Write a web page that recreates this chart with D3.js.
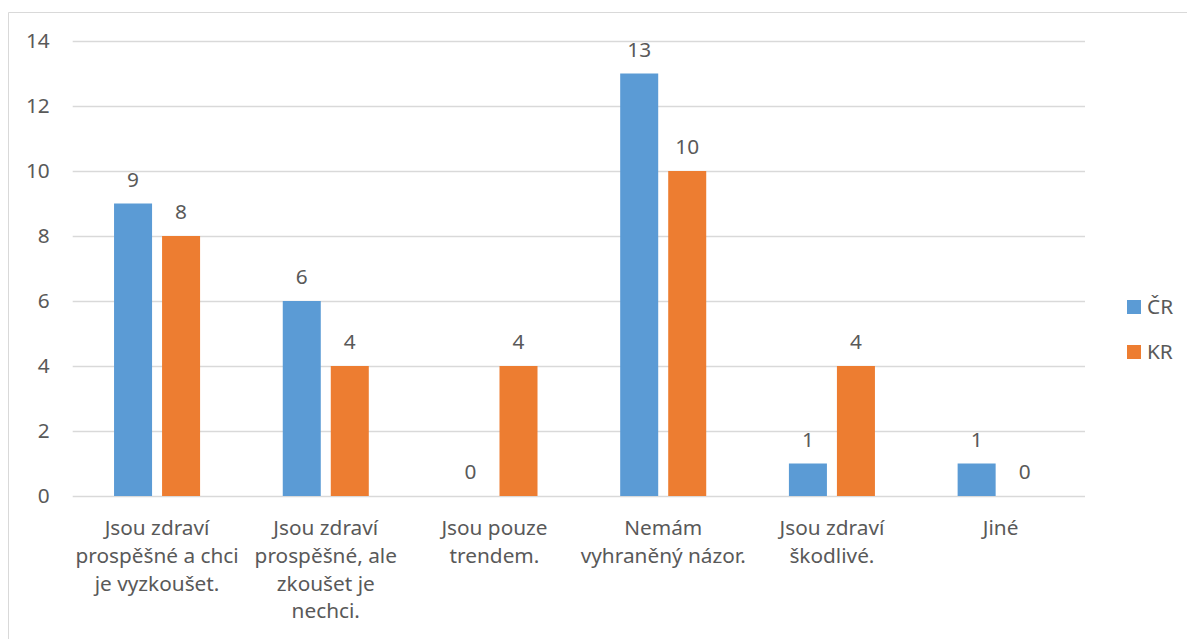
<!DOCTYPE html>
<html>
<head>
<meta charset="utf-8">
<script src="https://cdn.jsdelivr.net/npm/d3@7"></script>
<style>
  html, body { margin: 0; padding: 0; background: #fff; }
  svg { display: block; }
  text { font-family: "Noto Sans", "Open Sans", sans-serif; fill: #595959; }
</style>
</head>
<body>
<svg id="chart" width="1187" height="639"></svg>
<script>
const categories = [
  ["Jsou zdraví", "prospěšné a chci", "je vyzkoušet."],
  ["Jsou zdraví", "prospěšné, ale", "zkoušet je", "nechci."],
  ["Jsou pouze", "trendem."],
  ["Nemám", "vyhraněný názor."],
  ["Jsou zdraví", "škodlivé."],
  ["Jiné"]
];
const seriesNames = ["ČR", "KR"];
const valuesCR = [9, 6, 0, 13, 1, 1];
const valuesKR = [8, 4, 4, 10, 4, 0];
const yTicks = [0, 2, 4, 6, 8, 10, 12, 14];
const colors = ["#5B9BD5", "#ED7D31"];

const svg = d3.select("#chart");
const fontSize = 20.8;

// chart border
svg.append("path")
  .attr("d", "M8.5,700 L8.5,12.5 L1200,12.5")
  .attr("fill", "none").attr("stroke", "#D9D9D9").attr("stroke-width", 1);

const plot = { left: 72.7, right: 1085, top: 41, bottom: 496 };

const y = d3.scaleLinear().domain([0, 14]).range([plot.bottom, plot.top]);
const idx = categories.map((_, i) => i);
const x0 = d3.scaleBand().domain(idx).range([plot.left, plot.right]).padding(0);
const x1 = d3.scaleBand().domain([0, 1]).range([0, x0.bandwidth()])
  .paddingInner(0.2083).paddingOuter(0.861);

// gridlines
const yAxis = d3.axisLeft(y).tickValues(yTicks).tickSize(-(plot.right - plot.left)).tickPadding(23);
const gy = svg.append("g").attr("transform", `translate(${plot.left},0)`).call(yAxis);
gy.select(".domain").remove();
gy.selectAll(".tick line").attr("stroke", "#D9D9D9").attr("stroke-width", 1.3);
gy.selectAll(".tick text").style("font-size", fontSize + "px").attr("fill", "#595959")
  .style("font-family", '"Noto Sans", sans-serif');

// bars
const series = [valuesCR, valuesKR];
series.forEach((vals, s) => {
  const g = svg.append("g");
  g.selectAll("rect").data(vals).join("rect")
    .attr("x", (d, i) => x0(i) + x1(s))
    .attr("width", x1.bandwidth())
    .attr("y", d => y(d))
    .attr("height", d => y(0) - y(d))
    .attr("fill", colors[s]);
  g.selectAll("text").data(vals).join("text")
    .attr("x", (d, i) => x0(i) + x1(s) + x1.bandwidth() / 2)
    .attr("y", d => y(d) - 17)
    .attr("text-anchor", "middle")
    .style("font-size", fontSize + "px")
    .text(d => d);
});

// category labels
const lineH = 27.8;
categories.forEach((lines, i) => {
  const t = svg.append("text")
    .attr("x", x0(i) + x0.bandwidth() / 2)
    .attr("y", 535)
    .attr("text-anchor", "middle")
    .style("font-size", fontSize + "px");
  lines.forEach((ln, j) => {
    t.append("tspan").attr("x", x0(i) + x0.bandwidth() / 2).attr("y", 535 + j * lineH).text(ln);
  });
});

// legend
const legend = svg.append("g");
seriesNames.forEach((name, s) => {
  const ly = 300 + s * 45;
  legend.append("rect").attr("x", 1127).attr("y", ly).attr("width", 14).attr("height", 14).attr("fill", colors[s]);
  legend.append("text").attr("x", 1147).attr("y", ly + 7).attr("dy", "0.35em")
    .style("font-size", fontSize + "px").text(name);
});
</script>
</body>
</html>
